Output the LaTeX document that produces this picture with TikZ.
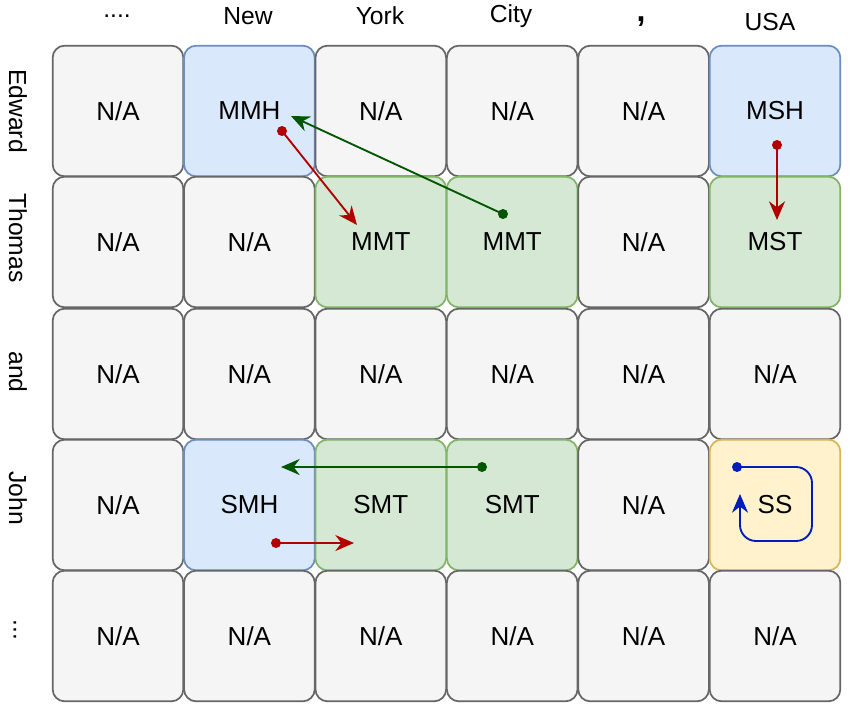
\documentclass[tikz,border=0pt]{standalone}
\usepackage{fontspec}
\setmainfont{Liberation Sans}
\usetikzlibrary{arrows.meta}
\definecolor{gF}{HTML}{F5F5F5}\definecolor{gD}{HTML}{666666}
\definecolor{bF}{HTML}{DAE8FC}\definecolor{bD}{HTML}{6C8EBF}
\definecolor{nF}{HTML}{D5E8D4}\definecolor{nD}{HTML}{82B366}
\definecolor{yF}{HTML}{FFF2CC}\definecolor{yD}{HTML}{D6B656}
\definecolor{ar}{HTML}{B20000}\definecolor{ag}{HTML}{005700}\definecolor{ab}{HTML}{001DBC}
\tikzset{
 cell/.style={draw=gD,fill=gF,line width=1.3pt,rounded corners=9pt,minimum width=98pt,minimum height=98pt,inner sep=0pt,font=\fontsize{19.5}{22}\selectfont},
 gry/.style={cell},
 blu/.style={cell,draw=bD,fill=bF},
 grn/.style={cell,draw=nD,fill=nF},
 yel/.style={cell,draw=yD,fill=yF},
 lab/.style={font=\fontsize{18.5}{21}\selectfont},
 arr/.style={line width=1.4pt,-{Stealth[length=14pt,width=12pt]}},
 dot/.style={circle,fill,inner sep=0pt,minimum size=7.5pt},
}
\begin{document}
\begin{tikzpicture}[x=0.75pt,y=-0.75pt]
\useasboundingbox (0,0) rectangle (858,722);
\foreach \r/\y/\row in {
 1/111/{gry/N\slash A,blu/MMH,gry/N\slash A,gry/N\slash A,gry/N\slash A,blu/MSH},
 2/242/{gry/N\slash A,gry/N\slash A,grn/MMT,grn/MMT,gry/N\slash A,grn/MST},
 3/374/{gry/N\slash A,gry/N\slash A,gry/N\slash A,gry/N\slash A,gry/N\slash A,gry/N\slash A},
 4/505/{gry/N\slash A,blu/SMH,grn/SMT,grn/SMT,gry/N\slash A,yel/SS},
 5/636/{gry/N\slash A,gry/N\slash A,gry/N\slash A,gry/N\slash A,gry/N\slash A,gry/N\slash A}}{
 \foreach \s/\t [count=\c] in \row {
  \pgfmathsetmacro\x{118+131.4*(\c-1)}
  \node[\s] (c\r\c) at (\x,\y) {\t};
 }}
% top labels
\node[lab] (t1) at (117,16) {....};
\node[lab] (t2) at (248,16) {New};
\node[lab] (t3) at (380,16) {York};
\node[lab] (t4) at (511,16) {City};
\node[font=\fontsize{24}{26}\selectfont\bfseries,inner sep=0pt] (t5) at (641,22) {,};
\node[lab] (t6) at (770,22) {USA};
% side labels
\node[lab,rotate=-90] (s1) at (18,111) {Edward};
\node[lab,rotate=-90] (s2) at (18,238) {Thomas};
\node[lab,rotate=-90] (s3) at (18,372) {and};
\node[lab,rotate=-90] (s4) at (18,498) {John};
\node[lab,rotate=-90] (s5) at (15,630) {...};
% arrows
\node[dot,ar] (d1) at (282,131) {}; \coordinate (e1) at (357,225);
\draw[arr,ar] (d1.center) -- (e1);
\node[dot,ag] (d2) at (503,214) {}; \coordinate (e2) at (291,116);
\draw[arr,ag] (d2.center) -- (e2);
\node[dot,ar] (d3) at (777,145) {}; \coordinate (e3) at (777,220);
\draw[arr,ar] (d3.center) -- (e3);
\node[dot,ag] (d4) at (482,467) {}; \coordinate (e4) at (281,467);
\draw[arr,ag] (d4.center) -- (e4);
\node[dot,ar] (d5) at (276,543) {}; \coordinate (e5) at (354,543);
\draw[arr,ar] (d5.center) -- (e5);
\node[dot,ab] (d6) at (737,467) {}; \coordinate (e6) at (740,494);
\draw[arr,ab,rounded corners=12pt] (d6.center) -- (812,467) -- (812,541) -- (740,541) -- (e6);
\end{tikzpicture}
\end{document}
